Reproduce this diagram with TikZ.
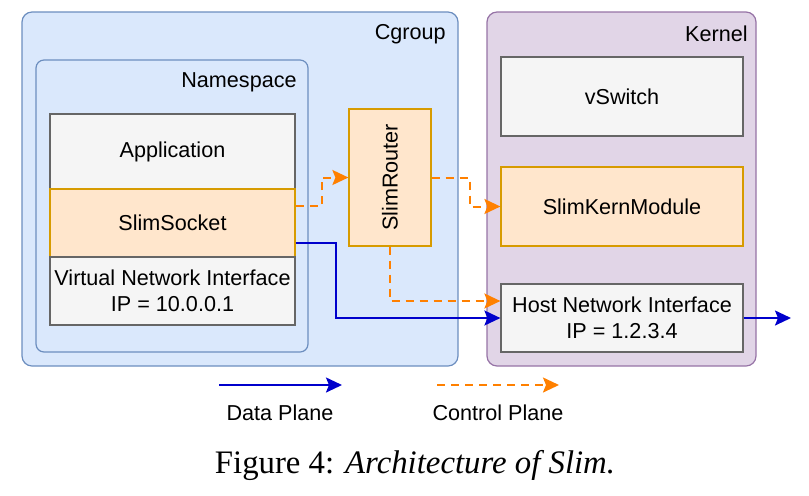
\documentclass[tikz,border=0pt]{standalone}
\usepackage{fontspec}
\setmainfont{Liberation Sans}
\newfontfamily\capfont{Liberation Serif}
\usetikzlibrary{positioning, arrows.meta}

\definecolor{cgfill}{HTML}{DAE8FC}
\definecolor{cgline}{HTML}{6C8EBF}
\definecolor{kfill}{HTML}{E1D5E7}
\definecolor{kline}{HTML}{9673A6}
\definecolor{gfill}{HTML}{F5F5F5}
\definecolor{gline}{HTML}{666666}
\definecolor{ofill}{HTML}{FFE6CC}
\definecolor{oline}{HTML}{D79B00}
\definecolor{dataline}{HTML}{0000CC}
\definecolor{ctrlline}{HTML}{FF8000}

\tikzset{
  container/.style={draw, line width=0.6pt, rounded corners=5pt, inner sep=0pt},
  graybox/.style={draw=gline, fill=gfill, line width=0.6pt, align=center, inner sep=0pt},
  orangebox/.style={draw=oline, fill=ofill, line width=0.6pt, align=center, inner sep=0pt},
  lbl/.style={inner sep=0pt},
  dataflow/.style={draw=dataline, line width=1pt, -{Stealth[length=8pt,width=7.5pt,inset=1.5pt]}},
  ctrlflow/.style={draw=ctrlline, line width=1pt, dash pattern=on 4pt off 3pt,
    -{Stealth[length=8pt,width=7.5pt,inset=1.5pt]}}
}

\begin{document}
\begin{tikzpicture}[x=0.5pt, y=-0.5pt, font=\fontsize{10.8}{13}\selectfont]
  \useasboundingbox (0,0) rectangle (809,495);

  % containers
  \node[container, draw=cgline, fill=cgfill, minimum width=218pt, minimum height=177pt] (cgroup) at (240,189) {};
  \node[container, draw=kline, fill=kfill, minimum width=134.5pt, minimum height=177pt] (kernel) at (621.5,189) {};
  \node[container, draw=cgline, fill=cgfill, rounded corners=4pt, minimum width=136pt, minimum height=146pt] (ns) at (172,206) {};
  \node[lbl, anchor=east] (cglbl) at (446,34) {Cgroup};
  \node[lbl, anchor=east] (klbl) at (748,34) {Kernel};
  \node[lbl, anchor=east] (nslbl) at (297,82) {Namespace};

  % namespace stack
  \node[graybox, minimum width=122.5pt, minimum height=37.5pt] (app) at (172.5,151.5) {Application};
  \node[orangebox, minimum width=122.5pt, minimum height=34pt] (sock) at (172.5,223) {SlimSocket};
  \node[graybox, minimum width=122.5pt, minimum height=34pt] (vni) at (172.5,291) {Virtual Network Interface\\IP = 10.0.0.1};

  \node[orangebox, minimum width=41pt, minimum height=68.5pt] (router) at (390,177.5) {\rotatebox{90}{SlimRouter}};

  % kernel side
  \node[graybox, minimum width=121pt, minimum height=39.5pt] (vswitch) at (622,96.5) {vSwitch};
  \node[orangebox, minimum width=121pt, minimum height=39.5pt] (kmod) at (622,206.5) {SlimKernModule};
  \node[graybox, minimum width=121pt, minimum height=34pt] (host) at (622,318) {Host Network Interface\\IP = 1.2.3.4};
  \coordinate (out) at (791,318);

  % control plane
  \draw[ctrlflow] ([yshift=8.5pt]sock.east) -- ++(26,0) |- (router.west);
  \draw[ctrlflow] (router.east) -- ++(38,0) |- (kmod.west);
  \draw[ctrlflow] (router.south) |- ([yshift=8.5pt]host.west);

  % data plane
  \draw[dataflow] ([yshift=-10pt]sock.east) -- ++(40,0) |- (host.west);
  \draw[dataflow] (host.east) -- (out);

  % legend
  \coordinate (d1) at (219,385);
  \coordinate (d2) at (342,385);
  \coordinate (c1) at (437,385);
  \coordinate (c2) at (559,385);
  \draw[dataflow] (d1) -- (d2);
  \draw[ctrlflow] (c1) -- (c2);
  \node[lbl] (dlbl) at (280,413) {Data Plane};
  \node[lbl] (clbl) at (498,413) {Control Plane};

  \node[lbl, font=\capfont\fontsize{16.4}{19}\selectfont] (caption) at (415,465) {Figure 4: \textit{Architecture of Slim.}};
\end{tikzpicture}
\end{document}
